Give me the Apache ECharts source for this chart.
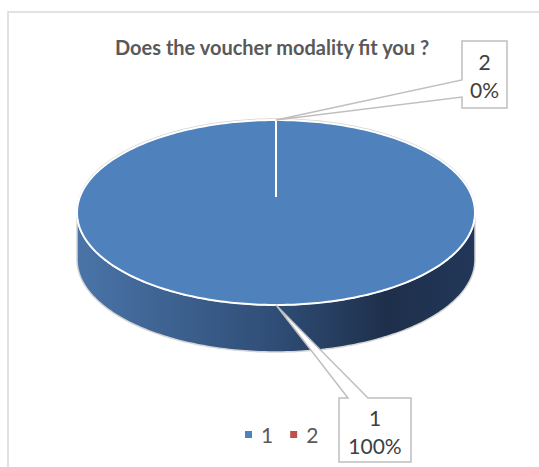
<!DOCTYPE html>
<html><head><meta charset="utf-8">
<script src="https://cdn.jsdelivr.net/npm/echarts@6/dist/echarts.min.js"></script>
<style>html,body{margin:0;padding:0;background:#fff}#c{width:539px;height:467px}</style>
</head><body><div id="c"></div>
<script>
// ---- data ----
const TITLE = 'Does the voucher modality fit you ?';
const CATEGORIES = ['1', '2'];
const VALUES = [100, 0];

// ---- style / layout ----
const COLORS = ['#4f81bd', '#c0504d'];
const FONT = 'Lato';
const PIE = { cx: 276, cy: 212.5, rx: 199, ry: 92.5, depth: 47, pivotLift: 15.5 };
const CALLOUTS = [
  { dx: 63, dy: 93, w: 72, h: 64, side: 'top', p0: 9, p1: 29 },
  { dx: 186, dy: -79, w: 45, h: 67, side: 'left', p0: 39, p1: 56 }
];
const SIDE_GRADIENT = {
  type: 'linear', x: PIE.cx - PIE.rx, y: 0, x2: PIE.cx + PIE.rx, y2: 0, global: true,
  colorStops: [
    { offset: 0, color: '#4a74a8' },
    { offset: 0.5, color: '#2f4d76' },
    { offset: 0.78, color: '#1e2f4b' },
    { offset: 1, color: '#223759' }
  ]
};

const TOTAL = VALUES.reduce((a, b) => a + b, 0);

function pt(t, dy) {
  return [PIE.cx + PIE.rx * Math.cos(t), PIE.cy + PIE.ry * Math.sin(t) + (dy || 0)];
}
function arc(s, e, dy) {
  const n = Math.max(2, Math.ceil(Math.abs(e - s) / (Math.PI / 180)));
  const pts = [];
  for (let j = 0; j <= n; j++) pts.push(pt(s + (e - s) * j / n, dy));
  return pts;
}

function makeRender(i) {
  return function (params, api) {
    let cum = 0;
    for (let k = 0; k < i; k++) cum += VALUES[k];
    const v = api.value(0);
    const a0 = -Math.PI / 2 + 2 * Math.PI * cum / TOTAL;
    const a1 = a0 + 2 * Math.PI * v / TOTAL;
    const color = COLORS[i];
    const children = [];
    // visible front side
    for (const k of [-1, 0, 1]) {
      const s = Math.max(a0, k * 2 * Math.PI);
      const e = Math.min(a1, k * 2 * Math.PI + Math.PI);
      if (e > s) {
        const top = arc(s, e, 0), bot = arc(e, s, PIE.depth);
        children.push({ type: 'polygon', shape: { points: top.concat(bot) },
          style: { fill: i === 0 ? SIDE_GRADIENT : color, stroke: '#d4d4d4', lineWidth: 1.5 } });
      }
    }
    const pivot = [PIE.cx, PIE.cy - PIE.pivotLift];
    if (v > 0) {
      // faint outer outline on the back rim
      children.push({ type: 'polyline', shape: { points: arc(Math.PI, 2 * Math.PI, -1) },
        style: { fill: null, stroke: '#d4d4d4', lineWidth: 1.5 } });
      const facePts = (v >= TOTAL) ? arc(a0, a1, 0) : [pivot].concat(arc(a0, a1, 0));
      children.push({ type: 'polygon', shape: { points: facePts },
        style: { fill: color, stroke: '#ffffff', lineWidth: 2 } });
    }
    // slice edges on top face
    [a0, a1].forEach(function (a) {
      const r = pt(a, 0);
      children.push({ type: 'line', shape: { x1: pivot[0], y1: pivot[1], x2: r[0], y2: r[1] },
        style: { stroke: '#ffffff', lineWidth: 2 } });
    });
    // callout
    const c = CALLOUTS[i];
    const anc = pt((a0 + a1) / 2, 0);
    const bx = anc[0] + c.dx, by = anc[1] + c.dy;
    let poly;
    if (c.side === 'top') {
      poly = [[bx, by], [bx + c.p0, by], anc, [bx + c.p1, by], [bx + c.w, by], [bx + c.w, by + c.h], [bx, by + c.h]];
    } else {
      poly = [[bx, by], [bx + c.w, by], [bx + c.w, by + c.h], [bx, by + c.h], [bx, by + c.p1], anc, [bx, by + c.p0]];
    }
    children.push({ type: 'polygon', shape: { points: poly },
      style: { fill: '#ffffff', stroke: '#bfbfbf', lineWidth: 1.5 } });
    const pct = TOTAL ? Math.round(v / TOTAL * 100) : 0;
    children.push({ type: 'text', style: {
      text: CATEGORIES[i] + '\n' + pct + '%', x: bx + c.w / 2, y: by + c.h / 2 + 1,
      textAlign: 'center', textVerticalAlign: 'middle', fontSize: 21, fontFamily: FONT,
      fill: '#404040', lineHeight: 28 } });
    return { type: 'group', children: children };
  };
}

const chart = echarts.init(document.getElementById('c'), null, { renderer: 'svg' });
chart.setOption({
  animation: false,
  backgroundColor: '#ffffff',
  graphic: [{ type: 'rect', shape: { x: 8, y: 12, width: 560, height: 480 },
    style: { fill: null, stroke: '#d9d9d9', lineWidth: 1.5 }, silent: true, z: -10 }],
  title: { text: TITLE, left: 115, top: 37, padding: 0,
    textStyle: { fontFamily: FONT, fontWeight: 'bold', fontSize: 20, color: '#595959' } },
  legend: { data: CATEGORIES, left: 245, top: 424, icon: 'rect', itemWidth: 7, itemHeight: 7, itemGap: 17,
    padding: 0,
    textStyle: { fontFamily: FONT, fontSize: 21, color: '#595959', padding: [0, 0, 0, 4] } },
  series: CATEGORIES.map(function (name, i) {
    return { type: 'custom', name: name, coordinateSystem: 'none', color: COLORS[i],
      itemStyle: { color: COLORS[i] }, data: [VALUES[i]], renderItem: makeRender(i), z: 2 + i };
  })
});
</script>
</body></html>
